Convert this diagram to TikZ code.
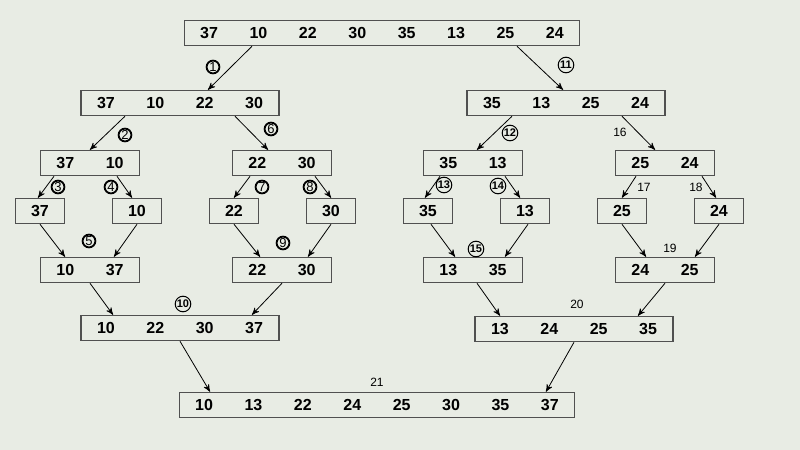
\documentclass[tikz,border=0pt]{standalone}
\usepackage{fontspec}
\setmainfont{Liberation Sans}
\usetikzlibrary{arrows}
\definecolor{bg}{RGB}{232,236,228}
\definecolor{frame}{RGB}{80,80,80}
\newcommand{\cell}[1]{\makebox[24.7pt]{#1}}

\begin{document}
\begin{tikzpicture}[x=0.5pt,y=-0.5pt,->,>=stealth',thin,
  box/.style={draw=frame,line width=0.75pt,fill=bg,inner sep=0pt,minimum height=12.5pt,font=\bfseries\fontsize{8}{9}\selectfont},
  num node/.style={circle,draw,line width=0.9pt,inner sep=0pt,minimum size=6.4pt,font=\fontsize{6.5}{6.5}\selectfont},
  big num node/.style={circle,draw,line width=0.5pt,inner sep=0pt,minimum size=7.8pt,font=\bfseries\fontsize{5.5}{5.5}\selectfont},
  plain node/.style={font=\fontsize{6}{7}\selectfont}]
\fill[bg,-] (0,0) rectangle (800,450);
\useasboundingbox (0,0) rectangle (800,450);

% whole list
  \node[box] (top) at (382,33) {\cell{37}\cell{10}\cell{22}\cell{30}\cell{35}\cell{13}\cell{25}\cell{24}};

% halves
  \node[box] (l) at (180,103) {\cell{37}\cell{10}\cell{22}\cell{30}};
  \node[box] (r) at (566,103) {\cell{35}\cell{13}\cell{25}\cell{24}};

% quarters
  \node[box] (ll) at (90,163) {\cell{37}\cell{10}};
  \node[box] (lr) at (282,163) {\cell{22}\cell{30}};
  \node[box] (rl) at (473,163) {\cell{35}\cell{13}};
  \node[box] (rr) at (665,163) {\cell{25}\cell{24}};

% single items
  \node[box] (lll) at (40,211) {\cell{37}};
  \node[box] (llr) at (137,211) {\cell{10}};
  \node[box] (lrl) at (234,211) {\cell{22}};
  \node[box] (lrr) at (331,211) {\cell{30}};
  \node[box] (rll) at (428,211) {\cell{35}};
  \node[box] (rlr) at (525,211) {\cell{13}};
  \node[box] (rrl) at (622,211) {\cell{25}};
  \node[box] (rrr) at (719,211) {\cell{24}};

% merged pairs
  \node[box] (mll) at (90,270) {\cell{10}\cell{37}};
  \node[box] (mlr) at (282,270) {\cell{22}\cell{30}};
  \node[box] (mrl) at (473,270) {\cell{13}\cell{35}};
  \node[box] (mrr) at (665,270) {\cell{24}\cell{25}};

% merged halves
  \node[box] (ml) at (180,328) {\cell{10}\cell{22}\cell{30}\cell{37}};
  \node[box] (mr) at (574,329) {\cell{13}\cell{24}\cell{25}\cell{35}};

% sorted list
  \node[box] (sorted) at (377,405) {\cell{10}\cell{13}\cell{22}\cell{24}\cell{25}\cell{30}\cell{35}\cell{37}};

% splitting
  \path
    ([xshift=-65pt]top.south) edge ([xshift=14pt]l.north)
    ([xshift=67.5pt]top.south) edge ([xshift=-1.5pt]r.north)
    ([xshift=-27.5pt]l.south) edge (ll.north)
    ([xshift=27.5pt]l.south) edge ([xshift=-7pt]lr.north)
    ([xshift=-27pt]r.south) edge ([xshift=2pt]rl.north)
    ([xshift=28pt]r.south) edge ([xshift=-5pt]rr.north)
    ([xshift=-18pt]ll.south) edge ([xshift=-1pt]lll.north)
    ([xshift=13.5pt]ll.south) edge ([xshift=-2.5pt]llr.north)
    ([xshift=-16pt]lr.south) edge (lrl.north)
    ([xshift=16.5pt]lr.south) edge (lrr.north)
    ([xshift=-16.5pt]rl.south) edge ([xshift=-1.5pt]rll.north)
    ([xshift=16pt]rl.south) edge ([xshift=-2.5pt]rlr.north)
    ([xshift=-14.5pt]rr.south) edge (rrl.north)
    ([xshift=18.5pt]rr.south) edge ([xshift=-1.5pt]rrr.north);

% merging
  \path
    (lll.south) edge ([xshift=-12.5pt]mll.north)
    (llr.south) edge ([xshift=12pt]mll.north)
    (lrl.south) edge ([xshift=-11pt]mlr.north)
    (lrr.south) edge ([xshift=13pt]mlr.north)
    ([xshift=1.5pt]rll.south) edge ([xshift=-9pt]mrl.north)
    ([xshift=1.5pt]rlr.south) edge ([xshift=16pt]mrl.north)
    (rrl.south) edge ([xshift=-9.5pt]mrr.north)
    (rrr.south) edge ([xshift=15pt]mrr.north)
    (mll.south) edge ([xshift=-33.5pt]ml.north)
    (mlr.south) edge ([xshift=36pt]ml.north)
    ([xshift=2pt]mrl.south) edge ([xshift=-37pt]mr.north)
    (mrr.south) edge ([xshift=32pt]mr.north)
    (ml.south) edge ([xshift=-83.5pt]sorted.north)
    (mr.south) edge ([xshift=84.5pt]sorted.north);

% step numbers
  \node[num node] (n1) at (213,67) {1};
  \node[num node] (n2) at (125,135) {2};
  \node[num node] (n3) at (58,187) {3};
  \node[num node] (n4) at (111,187) {4};
  \node[num node] (n5) at (89,241) {5};
  \node[num node] (n6) at (271,129) {6};
  \node[num node] (n7) at (262,187) {7};
  \node[num node] (n8) at (310,187) {8};
  \node[num node] (n9) at (283,243) {9};
  \node[big num node] (n10) at (183,304) {10};
  \node[big num node] (n11) at (566,65) {11};
  \node[big num node] (n12) at (510,133) {12};
  \node[big num node] (n13) at (444,185) {13};
  \node[big num node] (n14) at (498,186) {14};
  \node[big num node] (n15) at (476,249) {15};
  \node[plain node] (n16) at (620,132) {16};
  \node[plain node] (n17) at (644,187) {17};
  \node[plain node] (n18) at (696,187) {18};
  \node[plain node] (n19) at (670,248) {19};
  \node[plain node] (n20) at (577,304) {20};
  \node[plain node] (n21) at (377,382) {21};

\end{tikzpicture}
\end{document}
